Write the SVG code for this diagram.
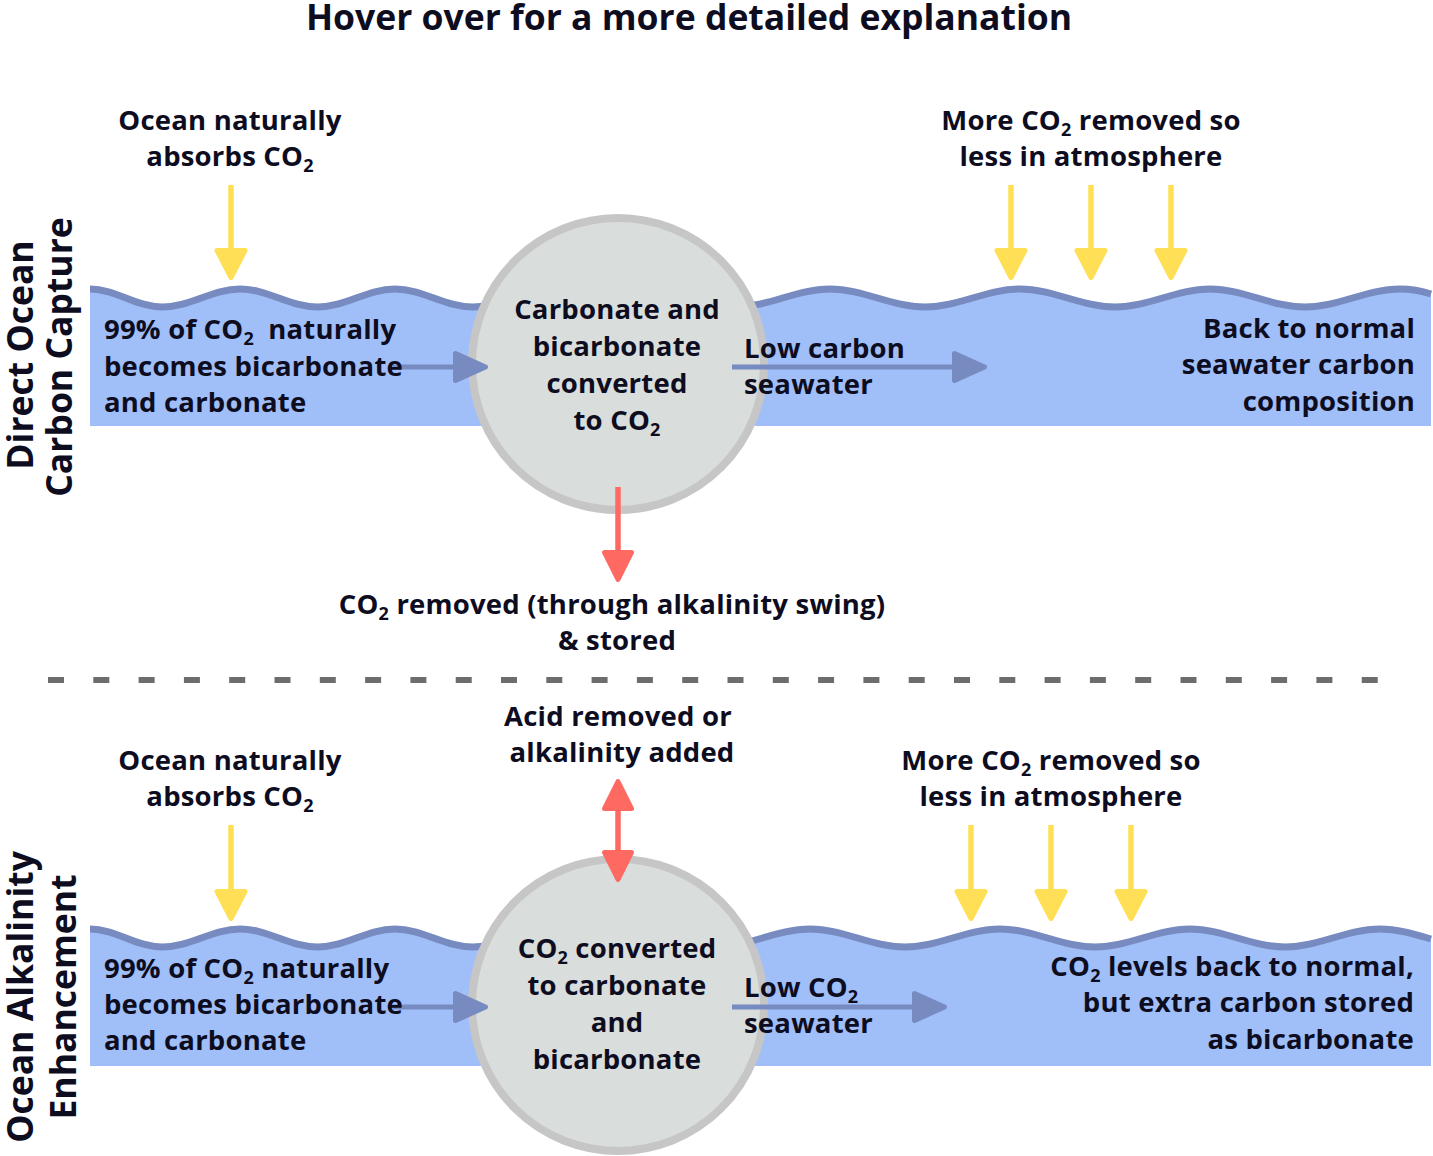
<svg xmlns="http://www.w3.org/2000/svg" width="1433" height="1156" viewBox="0 0 1433 1156">
<style>
text{font-family:"Open Sans","Noto Sans","Liberation Sans",sans-serif;font-weight:700;fill:#0d0d1f;font-size:27.5px;letter-spacing:0.2px}
.title{font-size:35.5px;letter-spacing:0}
.side{font-size:35.5px;letter-spacing:0}
.mid{text-anchor:middle}
.end{text-anchor:end}
.s{font-size:18px}
.water{fill:#a0bef8;stroke:none}
.wave{fill:none;stroke:#778bc0;stroke-width:7}
.circ{fill:#d9dddb;stroke:#c6c6c6;stroke-width:8}
.ya{stroke:#fedf55;stroke-width:5.5;fill:none;marker-end:url(#hy)}
.ba{stroke:#778bc0;stroke-width:5;fill:none;marker-end:url(#hb)}
.ra{stroke:#fe6a62;stroke-width:5.5;fill:none;marker-end:url(#hr)}
.dash{stroke:#6d6d6d;stroke-width:6;stroke-dasharray:16 29.3}
</style>
<defs>
<marker id="hy" markerUnits="userSpaceOnUse" markerWidth="40" markerHeight="40" refX="19.5" refY="0" orient="auto" overflow="visible">
<path d="M0,-14 L27,0 L0,14 Z" fill="#fedf55" stroke="#fedf55" stroke-width="5" stroke-linejoin="round"/>
</marker>
<marker id="hb" markerUnits="userSpaceOnUse" markerWidth="40" markerHeight="40" refX="22.5" refY="0" orient="auto" overflow="visible">
<path d="M0,-13.5 L30,0 L0,13.5 Z" fill="#778bc0" stroke="#778bc0" stroke-width="5" stroke-linejoin="round"/>
</marker>
<marker id="hr" markerUnits="userSpaceOnUse" markerWidth="40" markerHeight="40" refX="19.5" refY="0" orient="auto-start-reverse" overflow="visible">
<path d="M0,-13.5 L27,0 L0,13.5 Z" fill="#fe6a62" stroke="#fe6a62" stroke-width="5" stroke-linejoin="round"/>
</marker>
</defs>

<g id="title"><text class="title mid" x="689" y="30">Hover over for a more detailed explanation</text></g>

<g id="label-doc">
<text class="side mid" transform="translate(33,355) rotate(-90)">Direct Ocean</text>
<text class="side mid" transform="translate(72,357) rotate(-90)">Carbon Capture</text>
</g>
<g id="label-oae">
<text class="side mid" transform="translate(33,997) rotate(-90)">Ocean Alkalinity</text>
<text class="side mid" transform="translate(76,997) rotate(-90)">Enhancement</text>
</g>

<g id="water-top-left">
<path class="water" d="M90,289 C116,289 136,307 162.5,307 C190.5,307 212,289 240,289 C268,289 289.5,307 317.5,307 C345.5,307 367,289 395,289 C423,289 444.5,307 472.5,307 C500.5,307 522,289 550,289 C578,289 599.5,307 627.5,307 L627.5,426 L90,426 Z"/>
<path class="wave" d="M90,289 C116,289 136,307 162.5,307 C190.5,307 212,289 240,289 C268,289 289.5,307 317.5,307 C345.5,307 367,289 395,289 C423,289 444.5,307 472.5,307 C500.5,307 522,289 550,289 C578,289 599.5,307 627.5,307"/>
</g>
<g id="water-top-right">
<path class="water" d="M640,289 C674,289 701,307 735,307 C769,307 796,289 830,289 C864,289 891,307 925,307 C959,307 986,289 1020,289 C1054,289 1081,307 1115,307 C1149,307 1176,289 1210,289 C1244,289 1271,307 1305,307 C1339,307 1366,289 1400,289 C1411,289 1422,291 1431,294 L1431,426 L640,426 Z"/>
<path class="wave" d="M640,289 C674,289 701,307 735,307 C769,307 796,289 830,289 C864,289 891,307 925,307 C959,307 986,289 1020,289 C1054,289 1081,307 1115,307 C1149,307 1176,289 1210,289 C1244,289 1271,307 1305,307 C1339,307 1366,289 1400,289 C1411,289 1422,291 1431,294"/>
</g>
<g id="water-bottom-left" transform="translate(0,640)">
<path class="water" d="M90,289 C116,289 136,307 162.5,307 C190.5,307 212,289 240,289 C268,289 289.5,307 317.5,307 C345.5,307 367,289 395,289 C423,289 444.5,307 472.5,307 C500.5,307 522,289 550,289 C578,289 599.5,307 627.5,307 L627.5,426 L90,426 Z"/>
<path class="wave" d="M90,289 C116,289 136,307 162.5,307 C190.5,307 212,289 240,289 C268,289 289.5,307 317.5,307 C345.5,307 367,289 395,289 C423,289 444.5,307 472.5,307 C500.5,307 522,289 550,289 C578,289 599.5,307 627.5,307"/>
</g>
<g id="water-bottom-right">
<path class="water" d="M620,929 C654,929 681,947 715,947 C749,947 776,929 810,929 C844,929 871,947 905,947 C939,947 966,929 1000,929 C1034,929 1061,947 1095,947 C1129,947 1156,929 1190,929 C1224,929 1251,947 1285,947 C1319,947 1346,929 1380,929 C1398,929 1414,934 1431,939 L1431,1066 L620,1066 Z"/>
<path class="wave" d="M620,929 C654,929 681,947 715,947 C749,947 776,929 810,929 C844,929 871,947 905,947 C939,947 966,929 1000,929 C1034,929 1061,947 1095,947 C1129,947 1156,929 1190,929 C1224,929 1251,947 1285,947 C1319,947 1346,929 1380,929 C1398,929 1414,934 1431,939"/>
</g>

<g id="process-top"><circle class="circ" cx="618" cy="364" r="146"/></g>
<g id="process-bottom"><circle class="circ" cx="618" cy="1005" r="146"/></g>

<g id="separator"><line class="dash" x1="48" y1="680" x2="1382" y2="680"/></g>

<g id="connectors">
<line class="ya" x1="231" y1="185" x2="231" y2="270"/>
<line class="ya" x1="1011" y1="185" x2="1011" y2="270"/>
<line class="ya" x1="1091" y1="185" x2="1091" y2="270"/>
<line class="ya" x1="1171" y1="185" x2="1171" y2="270"/>
<line class="ya" x1="231" y1="825" x2="231" y2="911"/>
<line class="ya" x1="971" y1="825" x2="971" y2="911"/>
<line class="ya" x1="1051" y1="825" x2="1051" y2="911"/>
<line class="ya" x1="1131" y1="825" x2="1131" y2="911"/>
<line class="ba" x1="393" y1="367" x2="478" y2="367"/>
<line class="ba" x1="732" y1="367" x2="977" y2="367"/>
<line class="ba" x1="393" y1="1007" x2="478" y2="1007"/>
<line class="ba" x1="732" y1="1007" x2="937" y2="1007"/>
<line class="ra" x1="618" y1="487" x2="618" y2="572"/>
<line class="ra" x1="618" y1="789" x2="618" y2="872" style="marker-start:url(#hr)"/>
</g>

<g id="absorb-top">
<text class="mid" x="230" y="130">Ocean naturally</text>
<text class="mid" x="230" y="166">absorbs CO<tspan class="s" dy="6">2</tspan></text>
</g>
<g id="more-top">
<text class="mid" x="1091" y="130">More CO<tspan class="s" dy="6">2</tspan><tspan dy="-6"> removed so</tspan></text>
<text class="mid" x="1091" y="166">less in atmosphere</text>
</g>
<g id="natural-top">
<text x="104" y="339">99% of CO<tspan class="s" dy="6">2</tspan><tspan dy="-6" dx="7"> naturally</tspan></text>
<text x="104" y="376">becomes bicarbonate</text>
<text x="104" y="412">and carbonate</text>
</g>
<g id="process-top-text">
<text class="mid" x="617" y="319">Carbonate and</text>
<text class="mid" x="617" y="356">bicarbonate</text>
<text class="mid" x="617" y="393">converted</text>
<text class="mid" x="617" y="430">to CO<tspan class="s" dy="6">2</tspan></text>
</g>
<g id="low-top">
<text x="744" y="358">Low carbon</text>
<text x="744" y="394">seawater</text>
</g>
<g id="normal-top">
<text class="end" x="1415" y="338">Back to normal</text>
<text class="end" x="1415" y="374">seawater carbon</text>
<text class="end" x="1415" y="411">composition</text>
</g>
<g id="removed-top">
<text class="mid" x="612" y="614">CO<tspan class="s" dy="6">2</tspan><tspan dy="-6"> removed (through alkalinity swing)</tspan></text>
<text class="mid" x="617" y="650">&amp; stored</text>
</g>

<g id="acid">
<text class="mid" x="618" y="726">Acid removed or</text>
<text class="mid" x="622" y="762">alkalinity added</text>
</g>
<g id="absorb-bottom">
<text class="mid" x="230" y="770">Ocean naturally</text>
<text class="mid" x="230" y="806">absorbs CO<tspan class="s" dy="6">2</tspan></text>
</g>
<g id="more-bottom">
<text class="mid" x="1051" y="770">More CO<tspan class="s" dy="6">2</tspan><tspan dy="-6"> removed so</tspan></text>
<text class="mid" x="1051" y="806">less in atmosphere</text>
</g>
<g id="natural-bottom">
<text x="104" y="978">99% of CO<tspan class="s" dy="6">2</tspan><tspan dy="-6"> naturally</tspan></text>
<text x="104" y="1014">becomes bicarbonate</text>
<text x="104" y="1050">and carbonate</text>
</g>
<g id="process-bottom-text">
<text class="mid" x="617" y="958">CO<tspan class="s" dy="6">2</tspan><tspan dy="-6"> converted</tspan></text>
<text class="mid" x="617" y="995">to carbonate</text>
<text class="mid" x="617" y="1032">and</text>
<text class="mid" x="617" y="1069">bicarbonate</text>
</g>
<g id="low-bottom">
<text x="744" y="997">Low CO<tspan class="s" dy="6">2</tspan></text>
<text x="744" y="1033">seawater</text>
</g>
<g id="normal-bottom">
<text class="end" x="1414" y="976">CO<tspan class="s" dy="6">2</tspan><tspan dy="-6"> levels back to normal,</tspan></text>
<text class="end" x="1414" y="1012">but extra carbon stored</text>
<text class="end" x="1414" y="1049">as bicarbonate</text>
</g>
</svg>
